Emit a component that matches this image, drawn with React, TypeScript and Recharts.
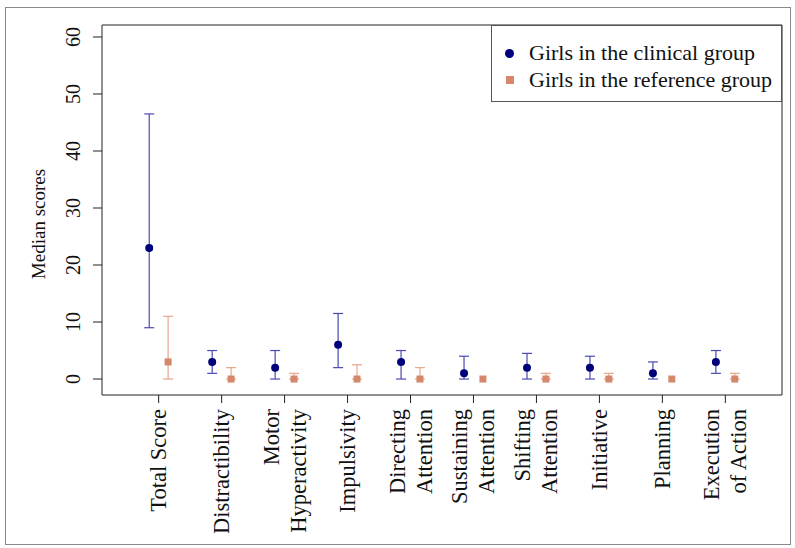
import React from "react";
import { ScatterChart, Scatter, XAxis, YAxis, ErrorBar, ReferenceArea } from "recharts";

// categories (multi-line labels)
const categories = [
  ["Total Score"],
  ["Distractibility"],
  ["Motor", "Hyperactivity"],
  ["Impulsivity"],
  ["Directing", "Attention"],
  ["Sustaining", "Attention"],
  ["Shifting", "Attention"],
  ["Initiative"],
  ["Planning"],
  ["Execution", "of Action"],
];

// girls in the clinical group: median + range
const clinicalMedian = [23, 3, 2, 6, 3, 1, 2, 2, 1, 3];
const clinicalLow = [9, 1, 0, 2, 0, 0, 0, 0, 0, 1];
const clinicalHigh = [46.5, 5, 5, 11.5, 5, 4, 4.5, 4, 3, 5];

// girls in the reference group
const referenceMedian = [3, 0, 0, 0, 0, 0, 0, 0, 0, 0];
const referenceLow = [0, 0, 0, 0, 0, 0, 0, 0, 0, 0];
const referenceHigh = [11, 2, 1, 2.5, 2, 0, 1, 1, 0, 1];

const yTicks = [0, 10, 20, 30, 40, 50, 60];
const xTicks = categories.map((_, i) => i + 1);

const X_DOMAIN: [number, number] = [0.1, 10.9];
const Y_DOMAIN: [number, number] = [-2.8, 62.1];

const CLIN = "#00007a";
const CLIN_BAR = "#4a4ab2";
const REF = "#d4876a";
const REF_BAR = "#e6a58b";
const FONT = "'Liberation Serif', 'Times New Roman', serif";

function build(median: number[], low: number[], high: number[], shift: number) {
  return median.map((m, i) => ({
    x: i + 1 + shift,
    y: m,
    err: high[i] > low[i] ? [m - low[i], high[i] - m] : null,
  }));
}

const clinicalData = build(clinicalMedian, clinicalLow, clinicalHigh, -0.15);
const referenceData = build(referenceMedian, referenceLow, referenceHigh, 0.15);

const series = [
  { name: "Girls in the clinical group", color: CLIN, marker: "circle" },
  { name: "Girls in the reference group", color: REF, marker: "square" },
];

const XTick = (props: any) => {
  const { x, y, payload } = props;
  const lines = categories[payload.value - 1] || [];
  const n = lines.length;
  return (
    <g transform={`translate(${x},${y})`}>
      {lines.map((t, k) => (
        <text
          key={k}
          transform="rotate(-90)"
          x={0}
          y={(k - (n - 1) / 2) * 27}
          textAnchor="end"
          dominantBaseline="central"
          fontFamily={FONT}
          fontSize={22.5}
          fill="#111"
        >
          {t}
        </text>
      ))}
    </g>
  );
};

// baseline of the rotated y tick labels
const Y_LABEL_X = 80;

const YTick = (props: any) => {
  const { y, payload } = props;
  return (
    <text
      transform={`translate(${Y_LABEL_X},${y}) rotate(-90)`}
      textAnchor="middle"
      fontFamily={FONT}
      fontSize={20}
      fill="#111"
    >
      {payload.value}
    </text>
  );
};

const Dot = (props: any) => <circle cx={props.cx} cy={props.cy} r={4} fill={CLIN} />;
const Square = (props: any) => (
  <rect x={props.cx - 3.5} y={props.cy - 3.5} width={7} height={7} fill={REF} />
);

export default function App() {
  return (
    <div style={{ position: "absolute", left: 0, top: 0, width: 795, height: 548, background: "#fff" }}>
      <div
        style={{
          position: "absolute",
          left: 5,
          top: 7,
          width: 786,
          height: 538,
          border: "1px solid #8a8a8a",
          boxSizing: "border-box",
        }}
      />
      <ScatterChart
        width={795}
        height={548}
        margin={{ top: 25, right: 13, bottom: 93, left: 42 }}
      >
        <XAxis
          type="number"
          dataKey="x"
          domain={X_DOMAIN}
          allowDataOverflow
          ticks={xTicks}
          interval={0}
          height={60}
          tickSize={8}
          tickMargin={6}
          axisLine={false}
          tickLine={{ stroke: "#222" }}
          tick={<XTick />}
        />
        <YAxis
          type="number"
          dataKey="y"
          domain={Y_DOMAIN}
          allowDataOverflow
          ticks={yTicks}
          interval={0}
          width={60}
          tickSize={9}
          axisLine={false}
          tickLine={{ stroke: "#222" }}
          tick={<YTick />}
          label={{
            content: () => (
              <text
                transform="translate(45,224) rotate(-90)"
                textAnchor="middle"
                fontFamily={FONT}
                fontSize={19}
                fill="#111"
              >
                Median scores
              </text>
            ),
          }}
        />
        <ReferenceArea
          x1={X_DOMAIN[0]}
          x2={X_DOMAIN[1]}
          y1={Y_DOMAIN[0]}
          y2={Y_DOMAIN[1]}
          fill="none"
          stroke="#222"
          strokeWidth={1}
        />
        <Scatter data={clinicalData} shape={<Dot />} isAnimationActive={false}>
          <ErrorBar dataKey="err" direction="y" width={5} stroke={CLIN_BAR} strokeWidth={1.2} />
        </Scatter>
        <Scatter data={referenceData} shape={<Square />} isAnimationActive={false}>
          <ErrorBar dataKey="err" direction="y" width={5} stroke={REF_BAR} strokeWidth={1.2} />
        </Scatter>
      </ScatterChart>
      <div
        style={{
          position: "absolute",
          left: 491,
          top: 25,
          width: 291,
          height: 77,
          border: "1px solid #555",
          boxSizing: "border-box",
          background: "#fff",
          fontFamily: FONT,
          fontSize: 22,
          color: "#111",
        }}
      >
        {series.map((s, i) => (
          <div
            key={s.name}
            style={{
              position: "absolute",
              left: 0,
              top: 14 + i * 26.5,
              height: 26.5,
              display: "flex",
              alignItems: "center",
              whiteSpace: "nowrap",
            }}
          >
            <span style={{ width: 39, display: "flex", justifyContent: "center", marginLeft: -2 }}>
              {s.marker === "circle" ? (
                <span style={{ width: 9, height: 9, borderRadius: "50%", background: s.color }} />
              ) : (
                <span style={{ width: 8, height: 8, background: s.color }} />
              )}
            </span>
            <span>{s.name}</span>
          </div>
        ))}
      </div>
    </div>
  );
}
